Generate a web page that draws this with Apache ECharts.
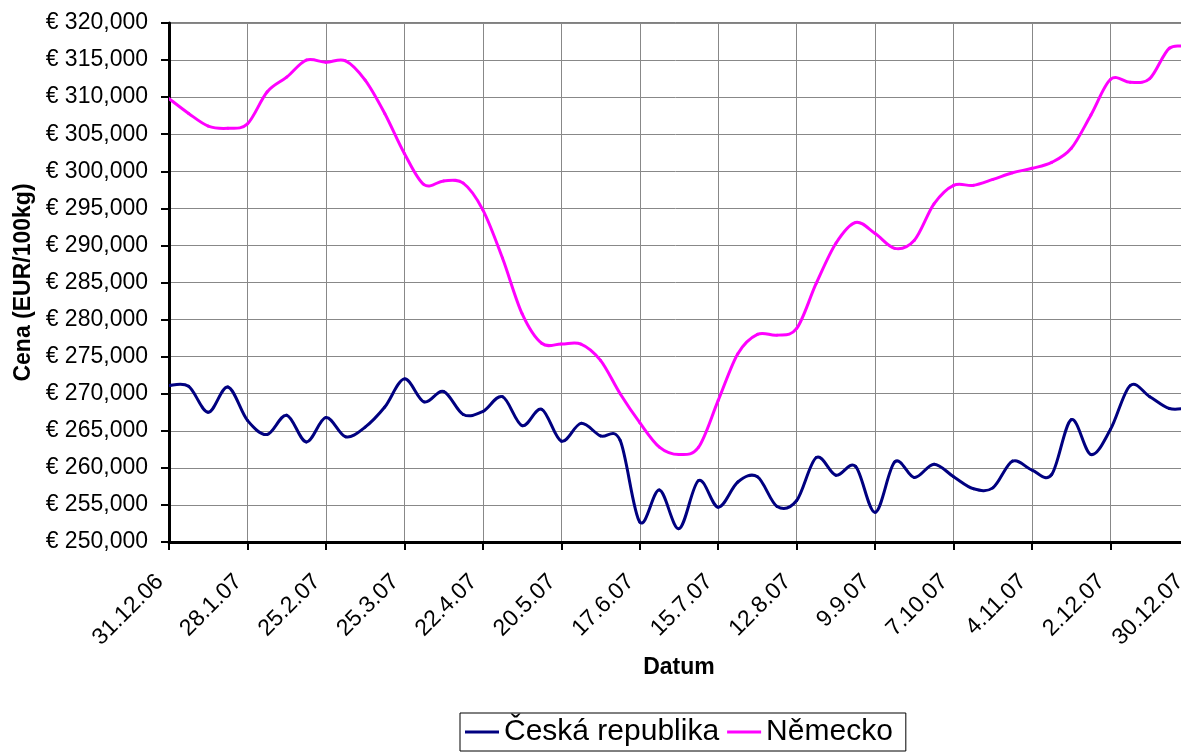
<!DOCTYPE html>
<html>
<head>
<meta charset="utf-8">
<script src="https://cdn.jsdelivr.net/npm/echarts@6/dist/echarts.min.js"></script>
<style>
  html, body { margin: 0; padding: 0; background: #fff; }
  #chart { width: 1181px; height: 754px; }
</style>
</head>
<body>
<div id="chart"></div>
<script>
var myChart = echarts.init(document.getElementById('chart'));

// tydenni data, 31.12.06 - 30.12.07
var dates = [
    '31.12.06', '7.1.07', '14.1.07', '21.1.07', '28.1.07', '4.2.07', '11.2.07', '18.2.07',
    '25.2.07', '4.3.07', '11.3.07', '18.3.07', '25.3.07', '1.4.07', '8.4.07', '15.4.07',
    '22.4.07', '29.4.07', '6.5.07', '13.5.07', '20.5.07', '27.5.07', '3.6.07', '10.6.07',
    '17.6.07', '24.6.07', '1.7.07', '8.7.07', '15.7.07', '22.7.07', '29.7.07', '5.8.07',
    '12.8.07', '19.8.07', '26.8.07', '2.9.07', '9.9.07', '16.9.07', '23.9.07', '30.9.07',
    '7.10.07', '14.10.07', '21.10.07', '28.10.07', '4.11.07', '11.11.07', '18.11.07', '25.11.07',
    '2.12.07', '9.12.07', '16.12.07', '23.12.07', '30.12.07'
];

var ceskaRepublika = [
    271.1, 271.0, 267.5, 270.9, 266.4, 264.5, 267.1, 263.5,
    266.8, 264.2, 265.5, 268.2, 272.0, 268.9, 270.3, 267.2,
    267.6, 269.6, 265.7, 267.9, 263.6, 266.0, 264.3, 263.7,
    252.7, 257.0, 251.8, 258.3, 254.7, 258.1, 258.8, 254.8,
    255.6, 261.4, 259.0, 260.2, 254.0, 260.8, 258.7, 260.5,
    258.8, 257.2, 257.3, 260.9, 259.7, 259.1, 266.5, 261.8,
    265.2, 271.1, 269.6, 268.0, 268.1
];

var nemecko = [
    309.8, 307.8, 306.1, 305.8, 306.4, 310.7, 312.7, 315.0,
    314.7, 314.9, 312.3, 307.8, 302.4, 298.2, 298.7, 298.4,
    294.8, 288.3, 280.8, 276.8, 276.7, 276.7, 274.5, 270.0,
    266.1, 262.8, 261.8, 262.8, 269.1, 275.4, 278.0, 277.9,
    278.8, 284.9, 290.3, 293.1, 291.6, 289.6, 290.7, 295.6,
    298.1, 298.1, 298.9, 299.8, 300.4, 301.2, 303.1, 307.6,
    312.4, 312.0, 312.5, 316.6, 316.7
];

var font = "'Liberation Sans', Arial, sans-serif";

function toPairs(values) {
    return values.map(function (v, i) { return [i, v]; });
}

// vyhlazena cara jako v Excelu (Catmull-Rom), body z os pres api.coord
function smoothCurve(values) {
    return function (params, api) {
        var i = params.dataIndex;
        if (i >= values.length - 1) return null;
        var pt = function (k) {
            k = Math.max(0, Math.min(values.length - 1, k));
            return api.coord([k, values[k]]);
        };
        var p0 = pt(i - 1), p1 = pt(i), p2 = pt(i + 1), p3 = pt(i + 2);
        return {
            type: 'bezierCurve',
            shape: {
                x1: p1[0], y1: p1[1],
                x2: p2[0], y2: p2[1],
                cpx1: p1[0] + (p2[0] - p0[0]) / 6,
                cpy1: p1[1] + (p2[1] - p0[1]) / 6,
                cpx2: p2[0] - (p3[0] - p1[0]) / 6,
                cpy2: p2[1] - (p3[1] - p1[1]) / 6
            },
            style: {
                fill: 'none',
                stroke: api.visual('color'),
                lineWidth: 3,
                lineCap: 'round'
            }
        };
    };
}

option = {
    backgroundColor: '#fff',
    animation: false,
    grid: {
        left: 169,
        top: 23,
        width: 1020,
        height: 519,
        outerBoundsMode: 'none',
        containLabel: false,
        show: true,
        borderColor: '#000',
        borderWidth: 1
    },
    legend: {
        left: 460,
        top: 713,
        data: ['Česká republika', 'Německo'],
        icon: 'rect',
        itemWidth: 34,
        itemHeight: 3,
        itemGap: 8,
        padding: [4, 13, 4, 5],
        borderColor: '#000',
        borderWidth: 1,
        textStyle: {
            fontFamily: font,
            fontSize: 30,
            color: '#000'
        }
    },
    xAxis: {
        type: 'category',
        data: dates,
        boundaryGap: false,
        name: 'Datum',
        nameLocation: 'middle',
        nameGap: 106,
        nameTextStyle: {
            fontFamily: font,
            fontSize: 23,
            fontWeight: 'bold',
            color: '#000'
        },
        axisLine: { lineStyle: { color: '#000', width: 3 } },
        axisTick: {
            interval: 3,
            length: 8,
            lineStyle: { color: '#000', width: 2 }
        },
        axisLabel: {
            interval: 3,
            rotate: 45,
            margin: 27,
            padding: [0, 13, 0, 0],
            fontFamily: font,
            fontSize: 23,
            color: '#000'
        },
        splitLine: {
            show: true,
            interval: 3,
            lineStyle: { color: '#888', width: 1 }
        }
    },
    yAxis: {
        type: 'value',
        min: 250,
        max: 320,
        interval: 5,
        name: 'Cena (EUR/100kg)',
        nameLocation: 'middle',
        nameGap: 134,
        nameTextStyle: {
            fontFamily: font,
            fontSize: 23,
            fontWeight: 'bold',
            color: '#000'
        },
        axisLine: { show: true, lineStyle: { color: '#000', width: 3 } },
        axisTick: {
            show: true,
            length: 8,
            lineStyle: { color: '#000', width: 2 }
        },
        axisLabel: {
            margin: 21,
            fontFamily: font,
            fontSize: 23,
            color: '#000',
            formatter: function (v) {
                return '€ ' + v.toFixed(3).replace('.', ',');
            }
        },
        splitLine: { lineStyle: { color: '#888', width: 1 } }
    },
    series: [
        {
            name: 'Česká republika',
            type: 'custom',
            data: toPairs(ceskaRepublika),
            encode: { x: 0, y: 1 },
            renderItem: smoothCurve(ceskaRepublika),
            clip: true,
            itemStyle: { color: '#000080' }
        },
        {
            name: 'Německo',
            type: 'custom',
            data: toPairs(nemecko),
            encode: { x: 0, y: 1 },
            renderItem: smoothCurve(nemecko),
            clip: true,
            itemStyle: { color: '#ff00ff' }
        }
    ]
};
myChart.setOption(option);
</script>
</body>
</html>
